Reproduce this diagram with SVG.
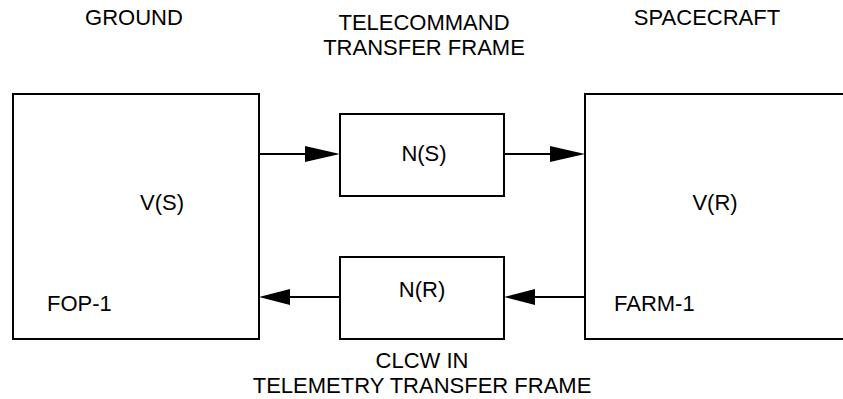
<svg xmlns="http://www.w3.org/2000/svg" width="843" height="399" viewBox="0 0 843 399">
<style>
.box{fill:#fff;stroke:#000;stroke-width:2}
.ln{fill:none;stroke:#000;stroke-width:2}
.hd{fill:#000;stroke:none}
text{font-family:"Liberation Sans",Arial,sans-serif;font-size:22px;fill:#000}
.c{text-anchor:middle}
</style>
<rect width="843" height="399" fill="#fff"/>
<g id="labels">
<text class="c" x="134" y="25">GROUND</text>
<text class="c" x="424" y="30">TELECOMMAND</text>
<text class="c" x="424" y="55">TRANSFER FRAME</text>
<text class="c" x="707" y="25">SPACECRAFT</text>
<text class="c" x="422" y="368">CLCW IN</text>
<text class="c" x="422" y="393">TELEMETRY TRANSFER FRAME</text>
</g>
<g id="ground">
<rect class="box" x="13" y="94" width="246" height="245"/>
<text class="c" x="162" y="210">V(S)</text>
<text x="47" y="311">FOP-1</text>
</g>
<g id="spacecraft">
<path class="box" d="M850 94 H585 V339 H850"/>
<text class="c" x="715" y="210">V(R)</text>
<text x="614" y="311">FARM-1</text>
</g>
<g id="ns">
<rect class="box" x="340" y="114" width="164" height="82"/>
<text class="c" x="424" y="161">N(S)</text>
</g>
<g id="nr">
<rect class="box" x="340" y="257" width="164" height="82"/>
<text class="c" x="422" y="297">N(R)</text>
</g>
<g id="connectors">
<path class="ln" d="M259 154 H306"/>
<polygon class="hd" points="340,154 305,146 305,162"/>
<path class="ln" d="M504 154 H551"/>
<polygon class="hd" points="585,154 550,146 550,162"/>
<path class="ln" d="M585 297 H534"/>
<polygon class="hd" points="504,297 535,289 535,305"/>
<path class="ln" d="M340 297 H289"/>
<polygon class="hd" points="259,297 290,289 290,305"/>
</g>
</svg>
